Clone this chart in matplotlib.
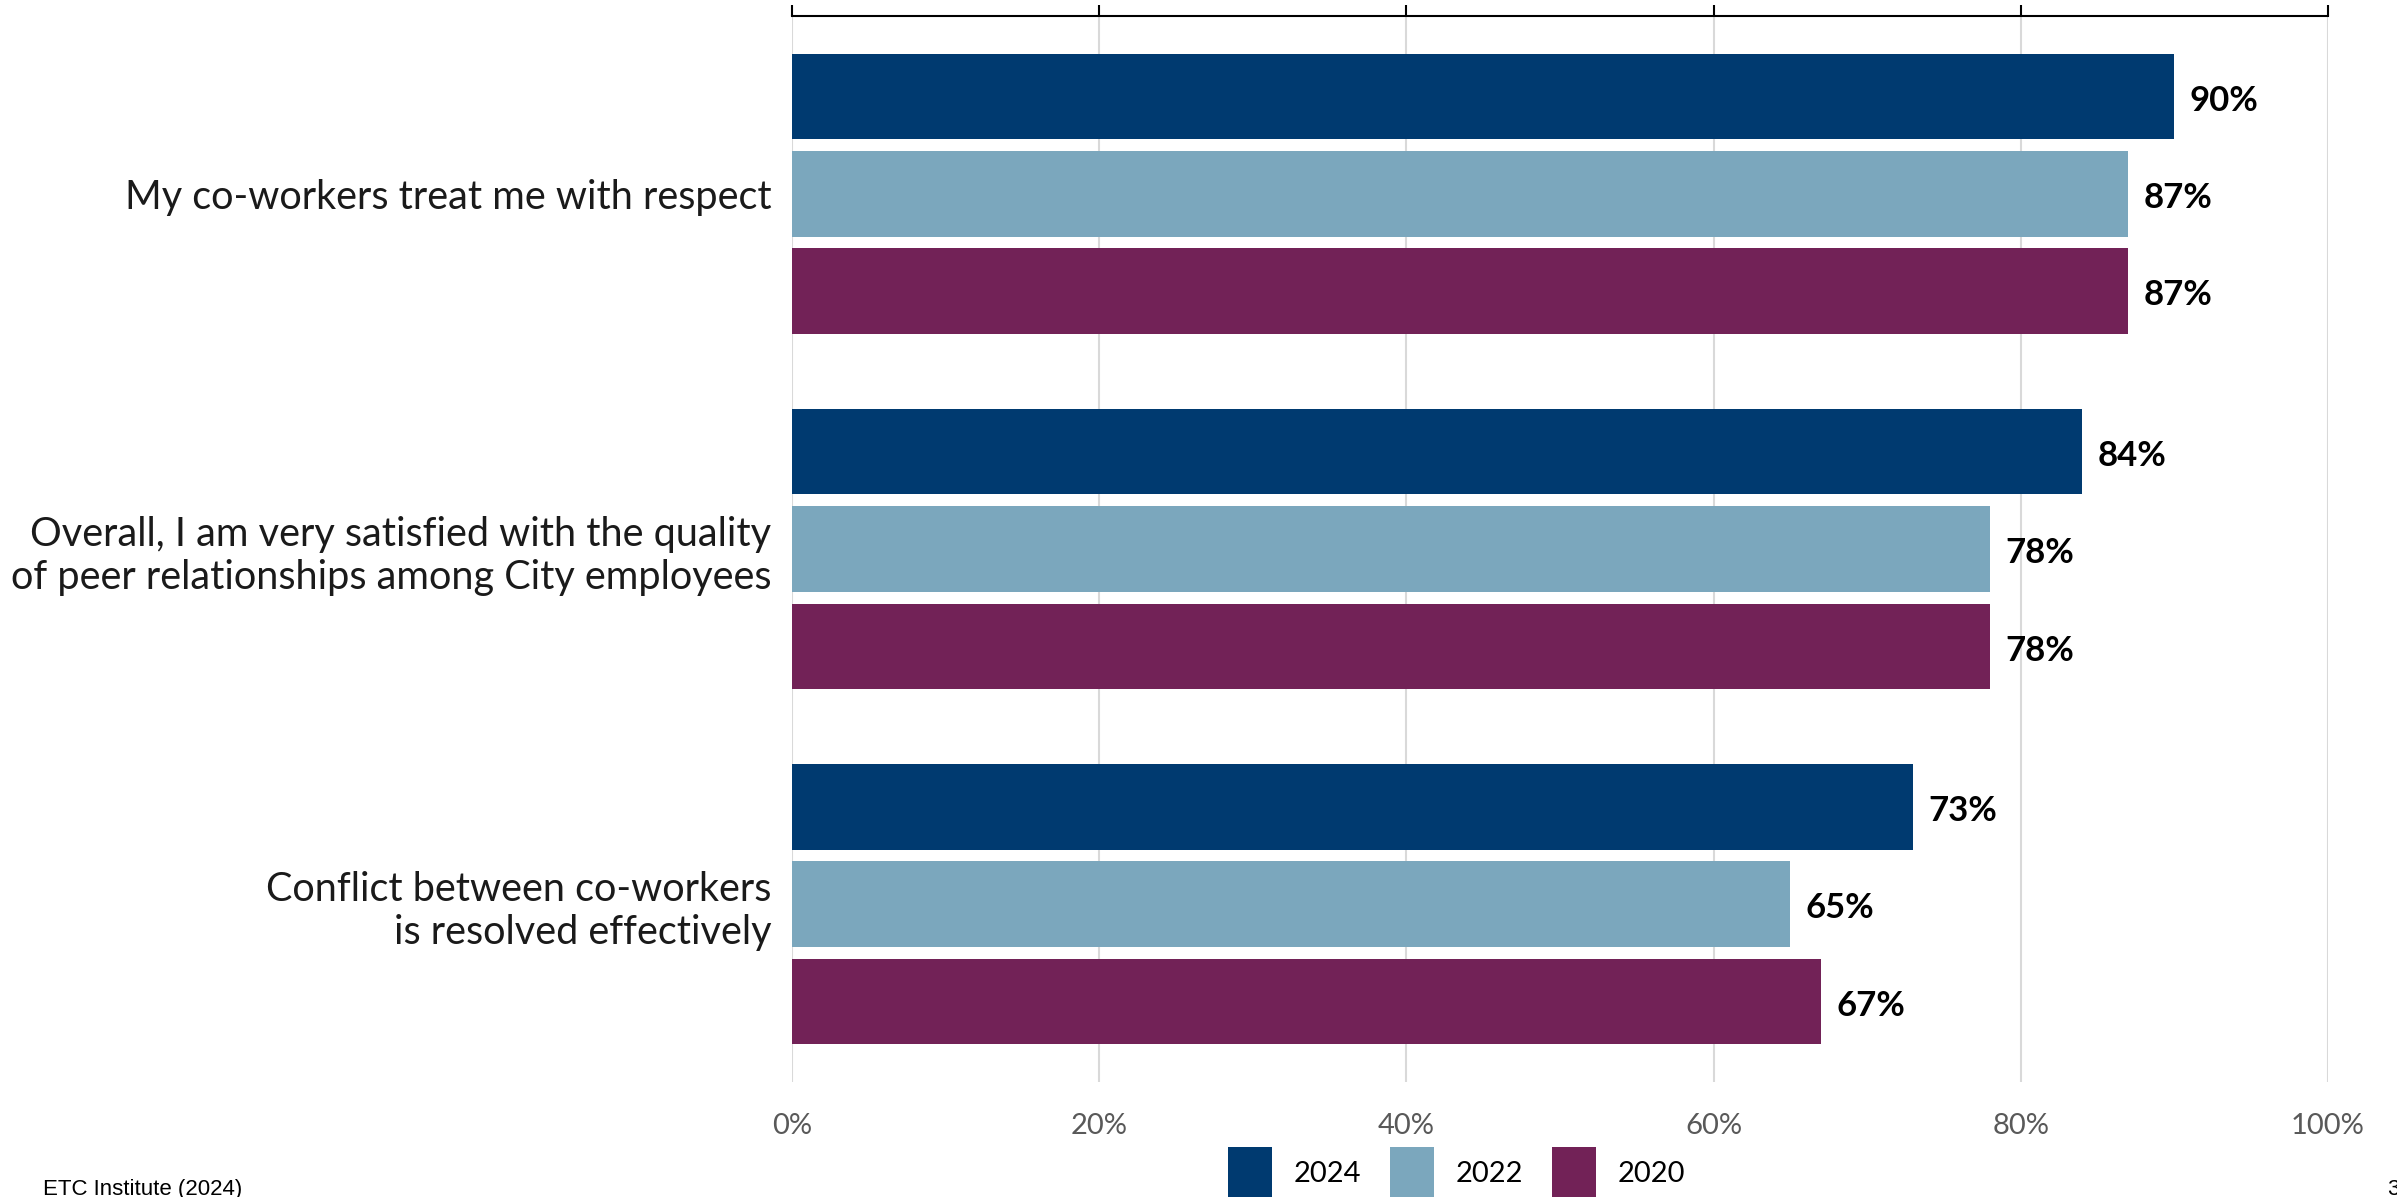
import matplotlib
matplotlib.use("Agg")
import matplotlib.pyplot as plt
import numpy as np
from matplotlib.patches import Patch

# survey items, top to bottom
categories = [
    "My co-workers treat me with respect",
    "Overall, I am very satisfied with the quality\nof peer relationships among City employees",
    "Conflict between co-workers\nis resolved effectively",
]
years = ["2024", "2022", "2020"]
values_2024 = [90, 84, 73]
values_2022 = [87, 78, 65]
values_2020 = [87, 78, 67]
x_ticks = [0, 20, 40, 60, 80, 100]
x_tick_labels = ["0%", "20%", "40%", "60%", "80%", "100%"]

colors = ["#003A70", "#7BA7BD", "#722257"]
plt.rcParams["font.family"] = ["Lato", "DejaVu Sans"]

W, H = 2397, 1197
fig = plt.figure(figsize=(W / 100, H / 100), dpi=100)
ax = fig.add_axes([0.3304, 0.0961, 0.9712 - 0.3304, 0.9866 - 0.0961])

pos = np.arange(len(categories))
pitch = 0.274
height = 0.241
series = [values_2024, values_2022, values_2020]
for k, (vals, col) in enumerate(zip(series, colors)):
    ys = pos + (k - 1) * pitch
    ax.barh(ys, vals, height=height, color=col, zorder=3)
    for y, v in zip(ys, vals):
        ax.annotate(f"{v}%", (v, y), xytext=(11, -3), textcoords="offset points",
                    ha="left", va="center", fontsize=25, fontweight="bold",
                    color="black")

ax.set_xlim(0, 100)
ax.set_ylim(2.5, -0.5)
ax.set_yticks(pos)
ax.set_yticklabels(categories, fontsize=28.5, color="#1a1a1a")
ax.tick_params(axis="y", length=0, pad=15)
ax.set_xticks(x_ticks)
ax.set_xticklabels(x_tick_labels, fontsize=21, color="#595959")
ax.tick_params(axis="x", bottom=False, top=True, labelbottom=True, labeltop=False,
               direction="out", length=8, width=1.5, color="black", pad=14)
ax.grid(axis="x", color="#d9d9d9", linewidth=1.5, zorder=0)
for side in ["left", "right", "bottom"]:
    ax.spines[side].set_visible(False)
ax.spines["top"].set_linewidth(1.5)
ax.spines["top"].set_color("black")

# legend sits on the bottom edge; the swatches run off the page
handles = [Patch(facecolor=c, edgecolor="none") for c in colors]
fig.legend(handles, years, loc="upper left", bbox_to_anchor=(1228 / W, 1 - 1147 / H),
           ncol=3, frameon=False, fontsize=21, handlelength=1.52, handleheight=2.4,
           columnspacing=1.0, handletextpad=0.72, borderaxespad=0, borderpad=0)

fig.text(43 / W, 2 / H, "ETC Institute (2024)", fontsize=16,
         family=["Liberation Sans", "DejaVu Sans"], ha="left", va="baseline")
fig.text(2387 / W, 2 / H, "3", fontsize=16,
         family=["Liberation Sans", "DejaVu Sans"], ha="left", va="baseline")

fig.savefig("out.png", dpi=100)
